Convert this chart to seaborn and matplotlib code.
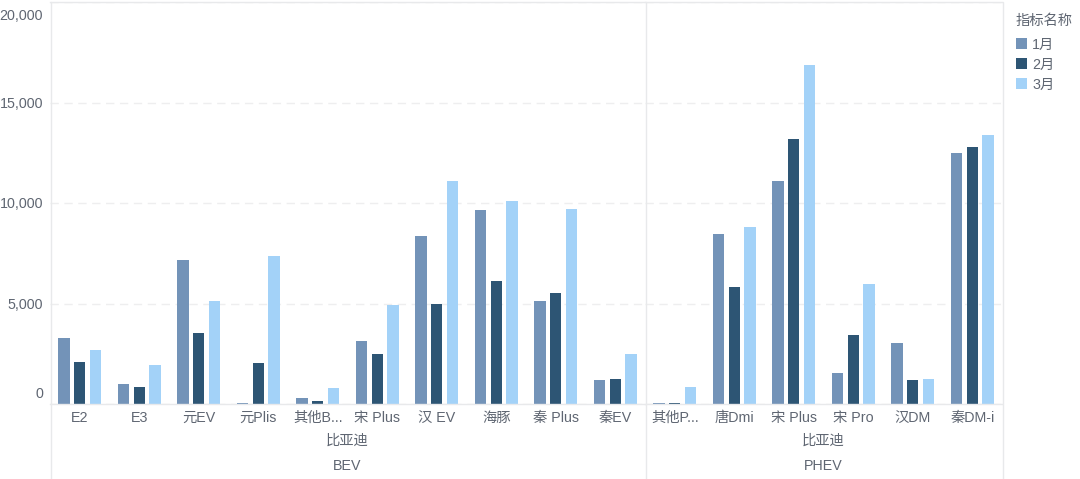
import numpy as np
import pandas as pd
import matplotlib
matplotlib.use("Agg")
import matplotlib.pyplot as plt
import matplotlib.transforms as mtransforms
from matplotlib.lines import Line2D
import seaborn as sns

# === Data ===
months = ["1月", "2月", "3月"]

bev_models = ["E2", "E3", "元EV", "元Plis", "其他B...", "宋 Plus", "汉 EV", "海豚", "秦 Plus", "秦EV"]
bev_jan = [3300, 990, 7180, 30, 300, 3130, 8370, 9670, 5100, 1190]
bev_feb = [2090, 870, 3510, 2040, 130, 2490, 4990, 6100, 5500, 1250]
bev_mar = [2670, 1930, 5100, 7360, 820, 4910, 11070, 10110, 9720, 2490]

phev_models = ["其他P...", "唐Dmi", "宋 Plus", "宋 Pro", "汉DM", "秦DM-i"]
phev_jan = [30, 8480, 11090, 1540, 3050, 12470]
phev_feb = [40, 5820, 13170, 3450, 1190, 12770]
phev_mar = [860, 8830, 16880, 5990, 1250, 13380]

brand = "比亚迪"
month_colors = {"1月": "#7393b8", "2月": "#2d5574", "3月": "#a3d2f8"}


def to_long(models, jan, feb, mar):
    df = pd.DataFrame({"车型": models, "1月": jan, "2月": feb, "3月": mar})
    return df.melt(id_vars="车型", var_name="指标名称", value_name="销量")


df_bev = to_long(bev_models, bev_jan, bev_feb, bev_mar)
df_phev = to_long(phev_models, phev_jan, phev_feb, phev_mar)

# === Style ===
sns.set_style("white")
plt.rcParams["font.family"] = ["Liberation Sans", "Noto Sans CJK SC", "DejaVu Sans"]
text_color = "#5f6672"
line_color = "#e8e9eb"
fs = 10.3

W, H = 1080, 479
fig = plt.figure(figsize=(W / 100, H / 100), dpi=100)

top_px, base_px = 2, 404
left_px, sep_px, right_px = 50, 645, 1002
ax_h = (base_px - top_px) / H
ax_bev = fig.add_axes([left_px / W, 1 - base_px / H, (sep_px - left_px) / W, ax_h])
ax_phev = fig.add_axes([sep_px / W, 1 - base_px / H, (right_px - sep_px) / W, ax_h], sharey=ax_bev)

for ax, df, models, group in [(ax_bev, df_bev, bev_models, "BEV"), (ax_phev, df_phev, phev_models, "PHEV")]:
    sns.barplot(data=df, x="车型", y="销量", hue="指标名称", order=models, hue_order=months,
                palette=month_colors, saturation=1, width=0.8, gap=0.28, linewidth=0, ax=ax)
    ax.set_xlabel("")
    ax.set_ylabel("")
    ax.set_ylim(0, 20000)
    ax.set_yticks([0, 5000, 10000, 15000, 20000])
    ax.yaxis.grid(True, linestyle=(0, (6, 4)), color="#eeeeef", linewidth=1)
    ax.set_axisbelow(True)
    ax.tick_params(axis="both", length=0, colors=text_color, labelsize=fs)
    ax.tick_params(axis="x", pad=5)
    for s in ax.spines.values():
        s.set_color(line_color)
        s.set_linewidth(1)
    ax.spines["left"].set_visible(False)
    ax.spines["right"].set_visible(False)
    ax.text(0.5, -37 / (base_px - top_px), brand, transform=ax.transAxes,
            ha="center", va="center", fontsize=fs, color=text_color)
    ax.text(0.5, -62 / (base_px - top_px), group, transform=ax.transAxes,
            ha="center", va="center", fontsize=fs, color=text_color)

ax_bev.yaxis.set_major_formatter(plt.FuncFormatter(lambda v, p: f"{v:,.0f}"))
ax_bev.tick_params(axis="y", pad=5)
ax_phev.tick_params(axis="y", labelleft=False)

# first and last y labels sit inside the plot, as in the reference
fig.canvas.draw()
ylabels = ax_bev.get_yticklabels()
ylabels[0].set_transform(ylabels[0].get_transform() +
                         mtransforms.ScaledTranslation(0, 12 / 100, fig.dpi_scale_trans))
ylabels[-1].set_transform(ylabels[-1].get_transform() +
                          mtransforms.ScaledTranslation(0, -13 / 100, fig.dpi_scale_trans))

# full-height vertical frame lines
for xp in [left_px, sep_px, right_px]:
    fig.add_artist(Line2D([(xp + 0.5) / W] * 2, [0, 1 - top_px / H], transform=fig.transFigure,
                          color=line_color, linewidth=1))

# === Legend ===
handles, labels = ax_bev.get_legend_handles_labels()
ax_bev.legend_.remove()
ax_phev.legend_.remove()
leg = fig.legend(handles, labels, title="指标名称", loc="upper left",
                 bbox_to_anchor=(1016 / W, 1 - 14 / H), frameon=False,
                 borderpad=0, borderaxespad=0,
                 fontsize=fs, title_fontsize=fs, handlelength=0.78, handleheight=0.78,
                 handletextpad=0.35, labelspacing=0.42, alignment="left")
leg._legend_box.sep = 7
for t in leg.get_texts():
    t.set_color(text_color)
leg.get_title().set_color(text_color)

fig.savefig("out.png", dpi=100, facecolor="white")
